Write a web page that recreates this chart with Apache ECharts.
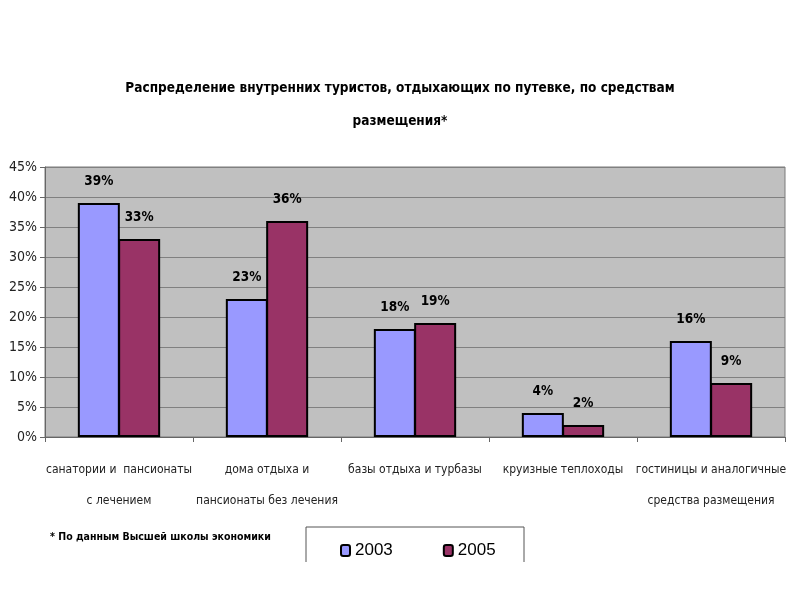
<!DOCTYPE html>
<html><head><meta charset="utf-8">
<script src="https://cdn.jsdelivr.net/npm/echarts@6/dist/echarts.min.js"></script>
<style>html,body{margin:0;padding:0;background:#fff}#c{width:800px;height:600px}</style>
</head><body><div id="c"></div>
<script>
var categories = ['санатории и  пансионаты\nс лечением', 'дома отдыха и\nпансионаты без лечения', 'базы отдыха и турбазы', 'круизные теплоходы', 'гостиницы и аналогичные\nсредства размещения'];
var values2003 = [39, 23, 18, 4, 16];
var values2005 = [33, 36, 19, 2, 9];
var seriesNames = ['2003', '2005'];
var yTicks = [0, 5, 10, 15, 20, 25, 30, 35, 40, 45];
var F = '"Liberation Sans Narrow", "DejaVu Sans Condensed", "Liberation Sans", sans-serif';
var chart = echarts.init(document.getElementById('c'));
chart.setOption({
  backgroundColor: '#fff',
  animation: false,
  title: {
    text: 'Распределение внутренних туристов, отдыхающих по путевке, по средствам\nразмещения*',
    left: 'center', top: 67,
    textStyle: {fontFamily: F, fontSize: 13.5, fontWeight: 'bold', color: '#000', lineHeight: 33}
  },
  graphic: [
    {type: 'text', left: 50, top: 532, style: {text: '* По данным Высшей школы экономики', font: 'bold 10.5px ' + F, fill: '#000'}},
    {type: 'polyline', shape: {points: [[306, 562], [306, 527], [524, 527], [524, 562]]}, style: {stroke: '#555', lineWidth: 1, fill: null}}
  ],
  legend: {
    data: seriesNames, left: 335, top: 537, itemGap: 50, itemWidth: 9, itemHeight: 11,
    textStyle: {fontFamily: '"Liberation Sans", sans-serif', fontSize: 17, color: '#000'}
  },
  grid: {left: 45, right: 15, top: 167, bottom: 163, show: true, backgroundColor: '#C0C0C0', borderColor: '#7a7a7a', borderWidth: 1},
  xAxis: {
    type: 'category', data: categories,
    axisLine: {lineStyle: {color: '#666'}},
    axisTick: {show: true, lineStyle: {color: '#666'}},
    axisLabel: {interval: 0, fontFamily: F, fontSize: 12, color: '#222', lineHeight: 31, margin: 17}
  },
  yAxis: {
    type: 'value', min: 0, max: 45, interval: 5,
    axisLine: {show: true, lineStyle: {color: '#666'}},
    axisTick: {show: true, lineStyle: {color: '#666'}},
    splitLine: {lineStyle: {color: '#808080', width: 1}},
    axisLabel: {fontFamily: F, fontSize: 14, color: '#222', formatter: function(v){return yTicks.indexOf(v) >= 0 ? v + '%' : '';}}
  },
  series: [
    {name: seriesNames[0], type: 'bar', data: values2003, barWidth: 42, barGap: '-4%',
     itemStyle: {color: '#9999FF', borderColor: '#000', borderWidth: 2},
     label: {show: true, position: 'top', distance: 15, formatter: '{c}%', fontFamily: F, fontSize: 13.5, fontWeight: 'bold', color: '#000'}},
    {name: seriesNames[1], type: 'bar', data: values2005, barWidth: 42, barGap: '-4%',
     itemStyle: {color: '#993366', borderColor: '#000', borderWidth: 2},
     label: {show: true, position: 'top', distance: 15, formatter: '{c}%', fontFamily: F, fontSize: 13.5, fontWeight: 'bold', color: '#000'}}
  ]
});
</script></body></html>
